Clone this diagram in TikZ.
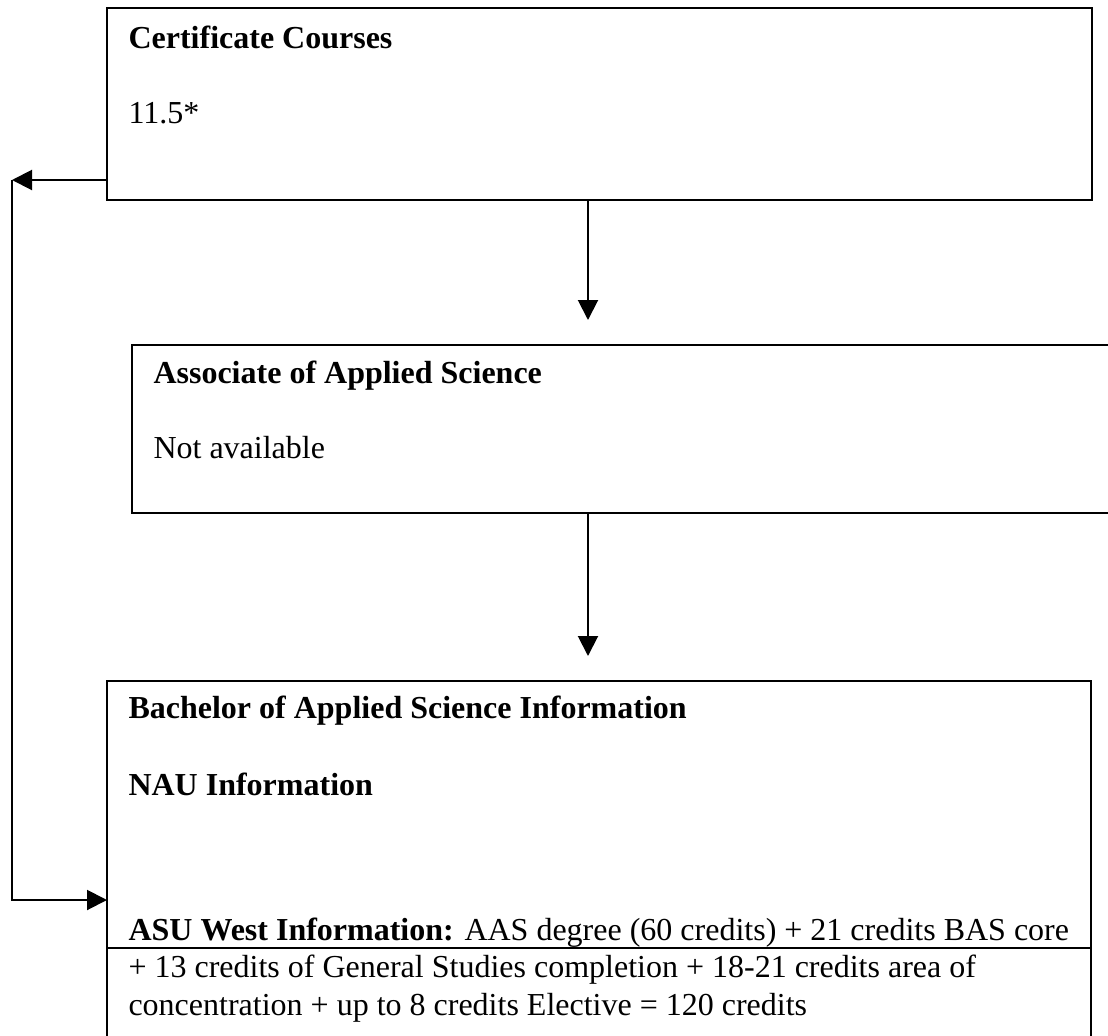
\documentclass[tikz,border=0pt]{standalone}
\usepackage{fontspec}
\setmainfont{Liberation Serif}
\usetikzlibrary{arrows.meta,positioning}
\newlength\pxu
\setlength\pxu{0.375pt}
\tikzset{info box/.style={draw,line width=1.1pt,rectangle,anchor=north west,inner sep=0pt,outer sep=0pt},
         box text/.style={anchor=base west,inner sep=0pt,font=\fontsize{12pt}{13.9pt}\selectfont},
         box title/.style={box text,font=\fontsize{12pt}{13.9pt}\selectfont\bfseries},
         flow/.style={line width=0.75pt,-{Triangle[length=7.5pt,width=7.5pt]}}
}
\begin{document}
\begin{tikzpicture}[x=0.375pt,y=-0.375pt]
    \clip (0,0) rectangle (1108,1036);

    % boxes
    \node[info box,minimum width=985\pxu,minimum height=192\pxu] (cert) at (107,8) {};
    \node[info box,minimum width=1000\pxu,minimum height=168\pxu] (aas) at (132,345) {};
    \node[info box,minimum width=984\pxu,minimum height=400\pxu] (bas) at (107,681) {};

    % texts
    \node[box title] (certT) at (128,48) {Certificate Courses};
    \node[box text] (certV) at (128,123) {11.5*};
    \node[box title] (aasT) at (153,383) {Associate of Applied Science};
    \node[box text] (aasV) at (153,458) {Not available};
    \node[box title] (basT) at (128,718) {Bachelor of Applied Science Information};
    \node[box title] (nauT) at (128,795) {NAU Information};
    \node[box text] (asuA) at (128,940) {\textbf{ASU West Information:} AAS degree (60 credits) + 21 credits BAS core};
    \node[box text] (asuB) at (128,977) {+ 13 credits of General Studies completion + 18-21 credits area of};
    \node[box text] (asuC) at (128,1015) {concentration + up to 8 credits Elective = 120 credits};
    \coordinate (rule) at (0,948);
    \draw[line width=0.5pt] (rule -| bas.west) -- (rule -| bas.east);

    % connectors
    \coordinate (tip1) at (588,320);
    \coordinate (tip2) at (588,656);
    \coordinate (lt) at (12,180);
    \coordinate (lb) at (12,900);
    \draw[flow] (tip1 |- cert.south) -- (tip1);
    \draw[flow] (tip2 |- aas.south) -- (tip2);
    \draw[flow] (lt -| cert.west) -- (lt);
    \draw[flow] (lt) -- (lb) -- (lb -| bas.west);
\end{tikzpicture}
\end{document}
